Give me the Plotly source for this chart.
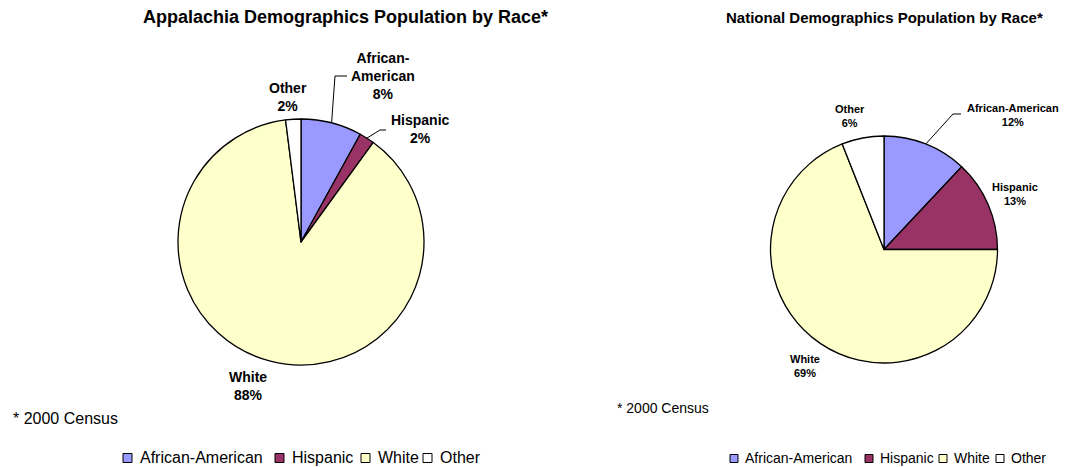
import math
import plotly.graph_objects as go

# ---------------- data ----------------
categories = ["African-American", "Hispanic", "White", "Other"]
appalachia_values = [8, 2, 88, 2]
national_values = [12, 13, 69, 6]
appalachia_title = "Appalachia Demographics Population by Race*"
national_title = "National Demographics Population by Race*"
footnote = "* 2000 Census"
label_text_left = ["African-<br>American", "Hispanic", "White", "Other"]
label_text_right = ["African-American", "Hispanic", "White", "Other"]

# ---------------- style / layout ----------------
# The page body has an 8px margin, so the figure is drawn 8px in from the
# top-left corner; layout positions below are in window pixels.
OFF = 8
W, H = 1067 - OFF, 467 - OFF
colors = ["#9999FF", "#993366", "#FFFFCC", "#FFFFFF"]
FONT = "Arial, 'Liberation Sans', sans-serif"

def px(x):
    return (x - OFF) / W

def py(y):
    return 1 - (y - OFF) / H

pies = [
    dict(values=appalachia_values, labels=label_text_left, cx=301, cy=242, r=123,
         title=appalachia_title, title_x=345, title_y=17, title_size=18,
         label_size=14, label_pos=[(383, 76), (420, 129), (248, 386), (288, 97)],
         leaders={0: [(335, 76), (347, 76)], 1: [(380, 130), (386, 130)]},
         note_x=11, note_y=418, note_size=16,
         leg_y=458, leg_box=9, leg_size=16,
         leg_box_x=[123, 275, 361, 423], leg_text_gap=6),
    dict(values=national_values, labels=label_text_right, cx=884, cy=249.5, r=113.5,
         title=national_title, title_x=884, title_y=17, title_size=15,
         label_size=11, label_pos=[(1013, 114.5), (1015, 194.5), (805, 366), (850, 116)],
         leaders={0: [(953, 114), (961, 114)]},
         note_x=615, note_y=408, note_size=14,
         leg_y=458.5, leg_box=8, leg_size=14,
         leg_box_x=[730, 865, 939, 996], leg_text_gap=5),
]

fig = go.Figure()
annotations = []
shapes = []

for p in pies:
    cx, cy, r = p["cx"], p["cy"], p["r"]
    fig.add_trace(go.Pie(
        labels=categories,
        values=p["values"],
        sort=False,
        direction="clockwise",
        rotation=0,
        textinfo="none",
        hoverinfo="label+percent",
        marker=dict(colors=colors, line=dict(color="#000000", width=1.3)),
        domain=dict(x=[px(cx - r), px(cx + r)], y=[py(cy + r), py(cy - r)]),
        showlegend=False,
    ))
    # title
    annotations.append(dict(
        text=f"<b>{p['title']}</b>", x=px(p["title_x"]), y=py(p["title_y"]),
        xref="paper", yref="paper", xanchor="center", yanchor="middle",
        showarrow=False, font=dict(family=FONT, size=p["title_size"], color="#000000")))
    # slice labels
    total = sum(p["values"])
    cum = 0
    for i, v in enumerate(p["values"]):
        mid = (cum + v / 2) / total * 2 * math.pi
        cum += v
        lx, ly = p["label_pos"][i]
        annotations.append(dict(
            text=f"<b>{p['labels'][i]}<br>{round(v / total * 100)}%</b>",
            x=px(lx), y=py(ly), xref="paper", yref="paper",
            xanchor="center", yanchor="middle", align="center", showarrow=False,
            font=dict(family=FONT, size=p["label_size"], color="#000000")))
        if i in p["leaders"]:
            ex = cx + r * math.sin(mid)
            ey = cy - r * math.cos(mid)
            pts = [(ex, ey)] + p["leaders"][i]
            path = "M " + " L ".join(f"{px(a):.5f},{py(b):.5f}" for a, b in pts)
            shapes.append(dict(type="path", path=path, xref="paper", yref="paper",
                               line=dict(color="#000000", width=1)))
    # footnote
    annotations.append(dict(
        text=footnote, x=px(p["note_x"]), y=py(p["note_y"]), xref="paper", yref="paper",
        xanchor="left", yanchor="middle", showarrow=False,
        font=dict(family=FONT, size=p["note_size"], color="#000000")))
    # legend (manual, to match compact spacing)
    b = p["leg_box"]
    for i, cat in enumerate(categories):
        bx = p["leg_box_x"][i]
        shapes.append(dict(type="rect", xref="paper", yref="paper",
                           x0=px(bx), x1=px(bx + b),
                           y0=py(p["leg_y"] + b / 2), y1=py(p["leg_y"] - b / 2),
                           fillcolor=colors[i], line=dict(color="#000000", width=1)))
        annotations.append(dict(
            text=cat, x=px(bx + b + p["leg_text_gap"]), y=py(p["leg_y"] - 0.5),
            xref="paper", yref="paper", xanchor="left", yanchor="middle",
            showarrow=False, font=dict(family=FONT, size=p["leg_size"], color="#000000")))

fig.update_layout(
    width=W, height=H,
    margin=dict(l=0, r=0, t=0, b=0),
    paper_bgcolor="#FFFFFF", plot_bgcolor="#FFFFFF",
    annotations=annotations, shapes=shapes,
    showlegend=False,
    font=dict(family=FONT),
)

fig.write_html("out.html", config={"displayModeBar": False})
